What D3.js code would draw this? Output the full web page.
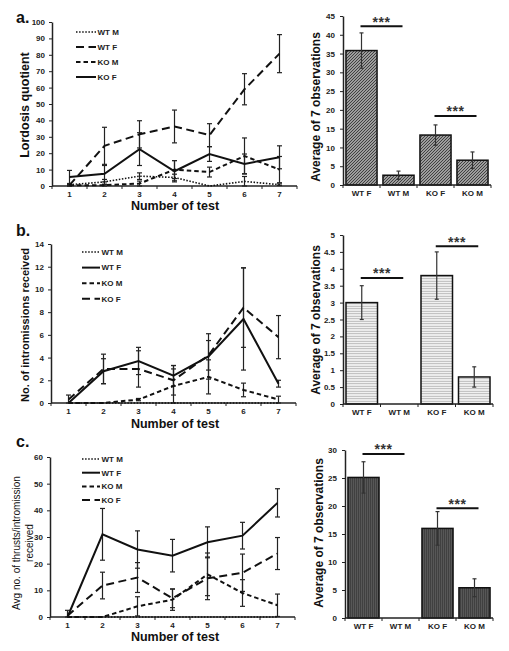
<!DOCTYPE html>
<html><head><meta charset="utf-8">
<script src="https://cdn.jsdelivr.net/npm/d3@7"></script>
<style>body{margin:0;background:#fff}svg{display:block}text{font-family:"Liberation Sans",Arial,sans-serif}</style>
</head><body><script>
// ---------- data ----------
const tests = [1,2,3,4,5,6,7];
const groups = ["WT F","WT M","KO F","KO M"];

// panel a: Lordosis quotient
const aWTM = [0.8, 2.5, 6, 5.2, 0, 2.8, 0.8];
const aWTMerr = [0.5, 1.5, 2, 2, 0, 3, 0.5];
const aWTF = [0.5, 24.5, 31.5, 36.3, 31, 59, 80.7];
const aWTFerr = [1, 11.3, 8.3, 10, 7, 9.5, 11.6];
const aKOM = [0.5, 0.5, 1.5, 10, 8.5, 18.3, 10];
const aKOMerr = [0.5, 0.5, 1.5, 5.5, 3, 11, 8];
const aKOF = [5.5, 7.5, 22.5, 9, 19.5, 13.5, 17.5];
const aKOFerr = [4, 5, 10, 6.5, 4.5, 6, 7];
const aBar = [35.8, 2.6, 13.3, 6.6];
const aBarErr = [4.7, 1.1, 2.7, 2.2];
const aSig = [42.3, 18.4];

// panel b: intromissions received
const bWTM = [0, 0, 0, 0, 0, 0, 0];
const bWTMerr = [0, 0, 0, 0, 0, 0, 0];
const bWTF = [0, 2.8, 3.7, 2.4, 4.1, 7.4, 1.7];
const bWTFerr = [0, 1.1, 1.2, 0.9, 2.0, 4.5, 0.3];
const bKOM = [0, 0, 0.3, 1.5, 2.3, 1.15, 0.3];
const bKOMerr = [0, 0, 0.1, 1.5, 1.5, 0.6, 0.3];
const bKOF = [0.3, 3.0, 3.0, 2.0, 4.2, 8.4, 5.8];
const bKOFerr = [0.4, 1.3, 1.6, 1.3, 1.3, 3.5, 1.9];
const bBar = [3.0, 0, 3.8, 0.8];
const bBarErr = [0.5, 0, 0.7, 0.3];
const bSig = [3.73, 4.67];

// panel c: thrusts / intromission
const cWTM = [0, 0, 0, 0, 0, 0, 0];
const cWTMerr = [0, 0, 0, 0, 0, 0, 0];
const cWTF = [0, 31, 25.3, 23, 28, 30.5, 42.8];
const cWTFerr = [0, 9.7, 7, 6.1, 5.8, 5, 5.3];
const cKOM = [0, 0, 4, 6.5, 16, 9, 4.4];
const cKOMerr = [0, 0, 3.6, 4, 8, 5, 4.2];
const cKOF = [0.5, 11.8, 14.8, 7, 14.5, 16.6, 23.8];
const cKOFerr = [2, 5, 5.6, 3.5, 8, 7, 6];
const cBar = [25.1, 0, 16, 5.4];
const cBarErr = [2.8, 0, 3, 1.6];
const cSig = [29.3, 19.6];

// ---------- drawing ----------
const W = 509, H = 651;
const svg = d3.select("body").append("svg").attr("width", W).attr("height", H);
const INK = "#222";

const styles = {
  dot:   {dash: "1.5,1.6", w: 1.6},
  long:  {dash: "8,4.5", w: 2},
  short: {dash: "4.5,3", w: 2},
  solid: {dash: null, w: 2}
};

// patterns
const defs = svg.append("defs");
const pa = defs.append("pattern").attr("id","patA").attr("patternUnits","userSpaceOnUse").attr("width",3).attr("height",3);
pa.append("rect").attr("width",3).attr("height",3).attr("fill","#c4c4c4");
pa.append("path").attr("d","M-1,1 L1,-1 M0,3 L3,0 M2,4 L4,2").attr("stroke","#3a3a3a").attr("stroke-width",1.1);
const pb = defs.append("pattern").attr("id","patB").attr("patternUnits","userSpaceOnUse").attr("width",4).attr("height",2.5);
pb.append("rect").attr("width",4).attr("height",2.5).attr("fill","#f4f4f4");
pb.append("path").attr("d","M0,1.25 L4,1.25").attr("stroke","#b0b0b0").attr("stroke-width",0.9);
const pc = defs.append("pattern").attr("id","patC").attr("patternUnits","userSpaceOnUse").attr("width",2).attr("height",4);
pc.append("rect").attr("width",2).attr("height",4).attr("fill","#575757");
pc.append("path").attr("d","M0.5,0 L0.5,4").attr("stroke","#404040").attr("stroke-width",1);

function styleAxis(ax){
  ax.select(".domain").attr("stroke", INK).attr("stroke-width", 1.5);
  ax.selectAll(".tick line").attr("stroke", INK);
  ax.selectAll("text").attr("font-size", 8).attr("font-weight", "bold").attr("fill", INK);
}

function lineChart(o){
  const g = svg.append("g");
  const x = d3.scaleBand().domain(tests).range([o.x0, o.x1]);
  const y = d3.scaleLinear().domain([0, o.ymax]).range([o.yb, o.yt]);
  const yax = g.append("g").attr("transform", `translate(${o.x0},0)`)
    .call(d3.axisLeft(y).tickValues(d3.range(0, o.ymax + 1e-9, o.ystep)).tickSize(3).tickSizeOuter(0).tickPadding(4));
  styleAxis(yax);
  const xax = g.append("g").attr("transform", `translate(0,${o.yb})`)
    .call(d3.axisBottom(x).tickSize(0).tickSizeOuter(0).tickPadding(5));
  styleAxis(xax);
  xax.select(".domain").attr("d", `M${o.x0},0H${o.x1}`);
  g.append("g").selectAll("line").data(d3.range(tests.length + 1)).join("line")
    .attr("x1", i => o.x0 + i * x.step()).attr("x2", i => o.x0 + i * x.step())
    .attr("y1", o.yb).attr("y2", o.yb + 3).attr("stroke", INK);
  const cx = t => x(t) + x.bandwidth() / 2;
  // error bars
  o.series.forEach(s => {
    const eg = g.append("g").attr("stroke", INK).attr("stroke-width", 1.2);
    tests.forEach((t, i) => {
      const e = s.errors[i]; if (!e) return;
      const lo = Math.max(0, s.values[i] - e), hi = s.values[i] + e;
      eg.append("line").attr("x1", cx(t)).attr("x2", cx(t)).attr("y1", y(lo)).attr("y2", y(hi));
      eg.append("line").attr("x1", cx(t) - 2.5).attr("x2", cx(t) + 2.5).attr("y1", y(hi)).attr("y2", y(hi));
      eg.append("line").attr("x1", cx(t) - 2.5).attr("x2", cx(t) + 2.5).attr("y1", y(lo)).attr("y2", y(lo));
    });
  });
  // lines
  const line = d3.line().x((d, i) => cx(tests[i])).y(d => y(d));
  o.series.forEach(s => {
    const st = styles[s.style];
    g.append("path").attr("d", line(s.values)).attr("fill", "none").attr("stroke", "#111")
      .attr("stroke-width", st.w).attr("stroke-dasharray", st.dash);
  });
  // legend
  o.series.forEach((s, i) => {
    const st = styles[s.style];
    const ly = o.leg.y + i * o.leg.dy;
    g.append("line").attr("x1", o.leg.x).attr("x2", o.leg.x + o.leg.len).attr("y1", ly).attr("y2", ly)
      .attr("stroke", "#111").attr("stroke-width", st.w).attr("stroke-dasharray", st.dash);
    g.append("text").attr("x", o.leg.x + o.leg.len + 1.5).attr("y", ly).attr("dy", "0.35em")
      .attr("font-size", 8).attr("font-weight", "bold").attr("fill", INK).text(s.name);
  });
  // titles
  g.append("text").attr("x", 175).attr("y", o.xtY).attr("text-anchor", "middle")
    .attr("font-size", 12.5).attr("font-weight", "bold").attr("fill", "#111").text("Number of test");
  o.ytitle.forEach((t, i) => {
    g.append("text").attr("transform", `translate(${t.x},${t.y}) rotate(-90)`).attr("text-anchor", "middle")
      .attr("dy", "0.35em").attr("font-size", t.size).attr("font-weight", t.weight).attr("fill", "#111").text(t.text);
  });
  g.append("text").attr("x", 16).attr("y", o.labY).attr("font-size", 16).attr("font-weight", "bold")
    .attr("fill", "#111").text(o.label);
}

function barChart(o){
  const g = svg.append("g");
  const x = d3.scaleBand().domain(groups).range([o.x0, o.x1]).paddingInner(0.16).paddingOuter(0.08);
  const y = d3.scaleLinear().domain([0, o.ymax]).range([o.yb, o.yt]);
  g.selectAll("rect").data(groups).join("rect")
    .attr("x", d => x(d)).attr("width", x.bandwidth())
    .attr("y", (d, i) => y(o.values[i])).attr("height", (d, i) => o.yb - y(o.values[i]))
    .attr("fill", `url(#${o.pattern})`).attr("stroke", "#111").attr("stroke-width", 1.5)
    .attr("display", (d, i) => o.values[i] > 0 ? null : "none");
  const eg = g.append("g").attr("stroke", "#333").attr("stroke-width", 1.2);
  groups.forEach((gname, i) => {
    const e = o.errors[i]; if (!e) return;
    const c = x(gname) + x.bandwidth() / 2;
    const lo = o.values[i] - e, hi = o.values[i] + e;
    eg.append("line").attr("x1", c).attr("x2", c).attr("y1", y(lo)).attr("y2", y(hi));
    eg.append("line").attr("x1", c - 2).attr("x2", c + 2).attr("y1", y(hi)).attr("y2", y(hi));
    eg.append("line").attr("x1", c - 2).attr("x2", c + 2).attr("y1", y(lo)).attr("y2", y(lo));
  });
  const yax = g.append("g").attr("transform", `translate(${o.x0},0)`)
    .call(d3.axisLeft(y).tickValues(d3.range(0, o.ymax + 1e-9, o.ystep)).tickFormat(d3.format("~g")).tickSize(3).tickSizeOuter(0).tickPadding(5));
  styleAxis(yax);
  const xax = g.append("g").attr("transform", `translate(0,${o.yb})`)
    .call(d3.axisBottom(x).tickSize(0).tickSizeOuter(0).tickPadding(5));
  styleAxis(xax);
  xax.select(".domain").attr("d", `M${o.x0},0H${o.x1}`);
  g.append("g").selectAll("line").data(d3.range(groups.length + 1)).join("line")
    .attr("x1", i => o.x0 + i * (o.x1 - o.x0) / groups.length).attr("x2", i => o.x0 + i * (o.x1 - o.x0) / groups.length)
    .attr("y1", o.yb).attr("y2", o.yb + 3).attr("stroke", INK);
  // significance
  [[0, 1], [2, 3]].forEach((pr, k) => {
    const xa = x(groups[pr[0]]) + x.bandwidth() / 2 - 1;
    const xb = x(groups[pr[1]]) + x.bandwidth() / 2 + 4;
    const ys = y(o.sig[k]);
    g.append("line").attr("x1", xa).attr("x2", xb).attr("y1", ys).attr("y2", ys).attr("stroke", "#111").attr("stroke-width", 2);
    g.append("text").attr("x", (xa + xb) / 2).attr("y", ys + 0.5).attr("text-anchor", "middle")
      .attr("font-size", 14).attr("font-weight", "bold").attr("letter-spacing", 0.5).attr("fill", "#333").text("***");
  });
  g.append("text").attr("transform", `translate(${o.ytx},${o.yty}) rotate(-90)`).attr("text-anchor", "middle")
    .attr("dy", "0.35em").attr("font-size", 12).attr("font-weight", "bold").attr("fill", "#111").text("Average of 7 observations");
}

// panel a
lineChart({
  x0: 52, x1: 297, yb: 186, yt: 22, ymax: 100, ystep: 10,
  series: [
    {name: "WT M", values: aWTM, errors: aWTMerr, style: "dot"},
    {name: "WT F", values: aWTF, errors: aWTFerr, style: "long"},
    {name: "KO M", values: aKOM, errors: aKOMerr, style: "short"},
    {name: "KO F", values: aKOF, errors: aKOFerr, style: "solid"}
  ],
  leg: {x: 76, y: 32, dy: 15, len: 20},
  xtY: 210, labY: 23, label: "a.",
  ytitle: [{x: 25, y: 105, size: 12.5, weight: "bold", text: "Lordosis quotient"}]
});
barChart({x0: 343, x1: 491, yb: 185, yt: 16, ymax: 45, ystep: 5, values: aBar, errors: aBarErr,
  pattern: "patA", sig: aSig, ytx: 316, yty: 107});

// panel b
lineChart({
  x0: 51, x1: 296, yb: 403, yt: 244, ymax: 14, ystep: 2,
  series: [
    {name: "WT M", values: bWTM, errors: bWTMerr, style: "dot"},
    {name: "WT F", values: bWTF, errors: bWTFerr, style: "solid"},
    {name: "KO M", values: bKOM, errors: bKOMerr, style: "short"},
    {name: "KO F", values: bKOF, errors: bKOFerr, style: "long"}
  ],
  leg: {x: 82, y: 252, dy: 15.6, len: 18},
  xtY: 428, labY: 236, label: "b.",
  ytitle: [{x: 25, y: 325, size: 11, weight: "bold", text: "No. of intromissions received"}]
});
barChart({x0: 343, x1: 493, yb: 404, yt: 235, ymax: 5, ystep: 0.5, values: bBar, errors: bBarErr,
  pattern: "patB", sig: bSig, ytx: 316, yty: 320});

// panel c
lineChart({
  x0: 50, x1: 295, yb: 617, yt: 457, ymax: 60, ystep: 10,
  series: [
    {name: "WT M", values: cWTM, errors: cWTMerr, style: "dot"},
    {name: "WT F", values: cWTF, errors: cWTFerr, style: "solid"},
    {name: "KO M", values: cKOM, errors: cKOMerr, style: "short"},
    {name: "KO F", values: cKOF, errors: cKOFerr, style: "long"}
  ],
  leg: {x: 82, y: 459, dy: 13.7, len: 18},
  xtY: 641, labY: 447, label: "c.",
  ytitle: [
    {x: 16, y: 543, size: 10, weight: "normal", text: "Avg no. of thrusts/intromission"},
    {x: 29, y: 543, size: 10, weight: "normal", text: "received"}
  ]
});
barChart({x0: 345, x1: 493, yb: 618, yt: 450, ymax: 30, ystep: 5, values: cBar, errors: cBarErr,
  pattern: "patC", sig: cSig, ytx: 319, yty: 533});
</script></body></html>
